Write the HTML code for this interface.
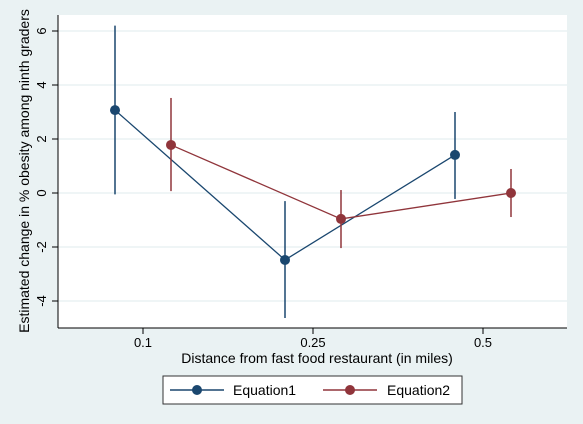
<!DOCTYPE html>
<html><head><meta charset="utf-8"><style>
body{margin:0;background:#eaf2f3;}
svg{display:block;font-family:"Liberation Sans",sans-serif;}
</style></head><body>
<svg width="583" height="424">
<rect x="0" y="0" width="583" height="424" fill="#eaf2f3"/>
<rect x="58" y="15" width="509" height="313" fill="#fff"/>
<g id="grid"></g>
<g id="marks"></g>
<line x1="58" y1="15" x2="58" y2="328" stroke="#000" stroke-width="1"/>
<line x1="58" y1="328" x2="567" y2="328" stroke="#000" stroke-width="1"/>
<g id="ticks"></g>
<text x="317" y="363" font-size="14" text-anchor="middle">Distance from fast food restaurant (in miles)</text>
<text transform="translate(29,171) rotate(-90)" font-size="14" text-anchor="middle">Estimated change in % obesity among ninth graders</text>
<g>
<rect x="163" y="376" width="299" height="28" fill="#fff" stroke="#333"/>
<g>
<line x1="170" y1="390" x2="224" y2="390" stroke="#1a476f" stroke-width="1.5"/>
<circle cx="197" cy="390" r="5" fill="#1a476f"/>
<text x="233" y="395" font-size="14">Equation1</text></g>
<g>
<line x1="323" y1="390" x2="377" y2="390" stroke="#90353b" stroke-width="1.5"/>
<circle cx="350" cy="390" r="5" fill="#90353b"/>
<text x="387" y="395" font-size="14">Equation2</text></g>
</g>
</svg>
<script>
const categories=["0.1","0.25","0.5"];
const yTicks=[-4,-2,0,2,4,6];
const eq1=[3.07,-2.48,1.41];
const eq1Lo=[-0.05,-4.63,-0.22];
const eq1Hi=[6.2,-0.3,3.0];
const eq2=[1.78,-0.96,0.0];
const eq2Lo=[0.07,-2.04,-0.89];
const eq2Hi=[3.52,0.11,0.89];
const NS="http://www.w3.org/2000/svg";
const ys=v=>193-27*v;
const xs=i=>143+170*i;
function mk(tag,attrs,parent){const e=document.createElementNS(NS,tag);for(const k in attrs)e.setAttribute(k,attrs[k]);document.getElementById(parent).appendChild(e);return e;}
yTicks.forEach(t=>{
  const g=mk('line',{x1:58,x2:567,y1:ys(t),y2:ys(t),stroke:'#eaf2f3','stroke-width':1.5},'grid');
  
  
  const tk=mk('line',{x1:52,x2:58,y1:ys(t),y2:ys(t),stroke:'#000'},'ticks');
  
  
  const tx=mk('text',{transform:`translate(46,${ys(t)}) rotate(-90)`,'font-size':13,'text-anchor':'middle'},'ticks');
  tx.textContent=String(t);
  
  
});
categories.forEach((c,i)=>{
  const tk=mk('line',{x1:xs(i),x2:xs(i),y1:328,y2:334,stroke:'#000'},'ticks');
  
  
  const tx=mk('text',{x:xs(i),y:347,'font-size':13,'text-anchor':'middle'},'ticks');
  tx.textContent=c;
  
  
});
function series(vals,lo,hi,off,color,name){
  const pts=vals.map((v,i)=>`${xs(i)+off},${ys(v)}`).join(' ');
  const pl=mk('polyline',{points:pts,fill:'none',stroke:color,'stroke-width':1.3},'marks');
  
  
  vals.forEach((v,i)=>{
    const l=mk('line',{x1:xs(i)+off,x2:xs(i)+off,y1:ys(lo[i]),y2:ys(hi[i]),stroke:color,'stroke-width':1.5},'marks');
    
    
  });
  vals.forEach((v,i)=>{
    const c=mk('circle',{cx:xs(i)+off,cy:ys(v),r:5,fill:color},'marks');
    
    
  });
}
series(eq1,eq1Lo,eq1Hi,-28,'#1a476f','equation1');
series(eq2,eq2Lo,eq2Hi,28,'#90353b','equation2');
</script>
</body></html>
